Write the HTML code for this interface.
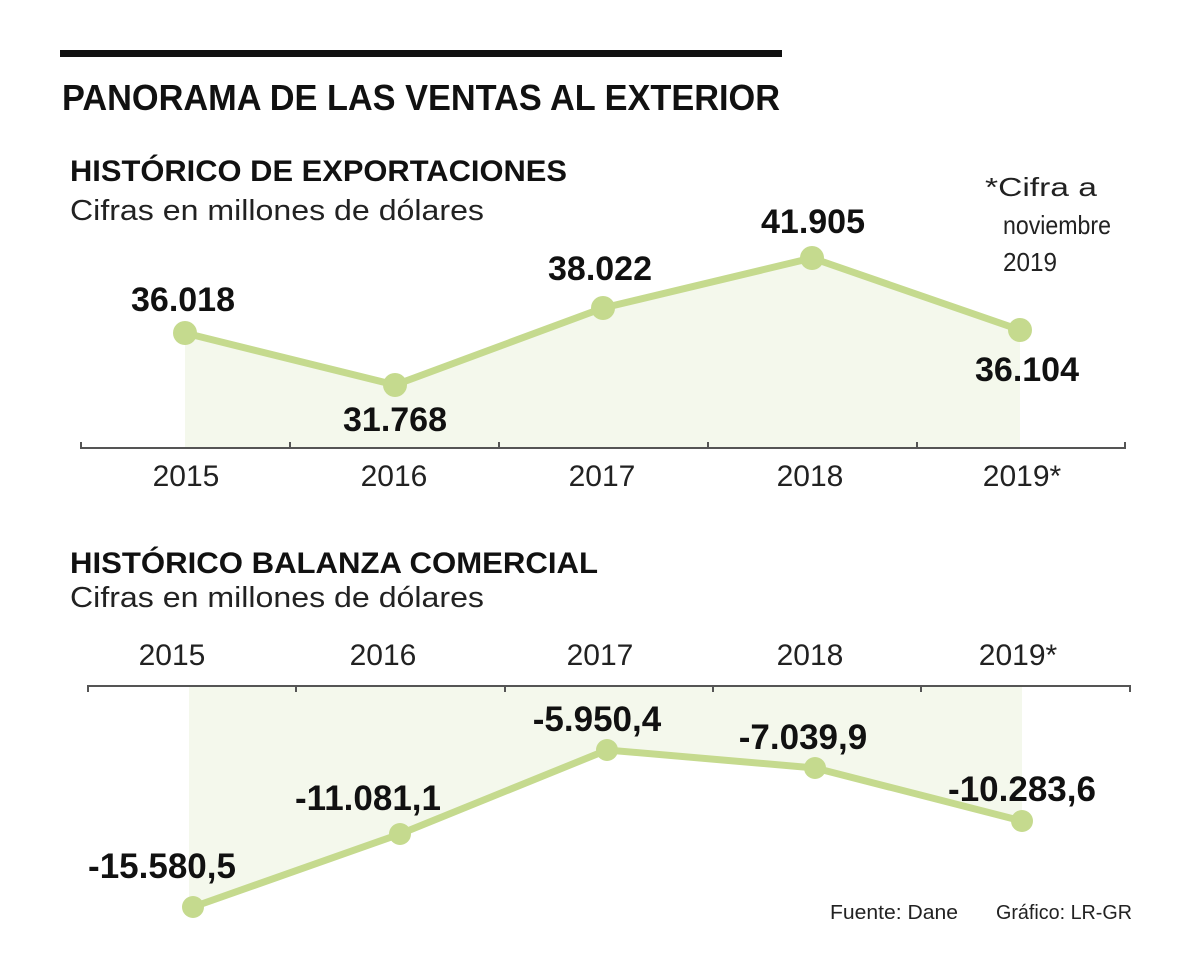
<!DOCTYPE html>
<html><head><meta charset="utf-8"><style>
html,body{margin:0;padding:0;background:#fff}
svg{display:block}
text{font-family:"Liberation Sans",sans-serif}
.b{font-weight:bold;fill:#111}
.r{fill:#222}
</style></head><body>
<svg width="1200" height="973" viewBox="0 0 1200 973">
<rect x="60" y="50" width="722" height="7" fill="#111"/>
<text x="62" y="110" class="b" font-size="36" textLength="718" lengthAdjust="spacingAndGlyphs">PANORAMA DE LAS VENTAS AL EXTERIOR</text>
<text x="70" y="181" class="b" font-size="30" textLength="497" lengthAdjust="spacingAndGlyphs">HISTÓRICO DE EXPORTACIONES</text>
<text x="70" y="220" class="r" font-size="29" textLength="414" lengthAdjust="spacingAndGlyphs">Cifras en millones de dólares</text>
<text x="985" y="196" class="r" font-size="26" textLength="112" lengthAdjust="spacingAndGlyphs">*Cifra a</text>
<text x="1003" y="234" class="r" font-size="26" textLength="108" lengthAdjust="spacingAndGlyphs">noviembre</text>
<text x="1003" y="271" class="r" font-size="26" textLength="54" lengthAdjust="spacingAndGlyphs">2019</text>
<polygon points="185,333 395,385 603,308 812,258 1020,330 1020,448 185,448" fill="#f4f8ec"/>
<line x1="80" y1="448" x2="1126" y2="448" stroke="#555" stroke-width="2"/>
<g stroke="#555" stroke-width="2">
<line x1="81" y1="442" x2="81" y2="448"/><line x1="290" y1="442" x2="290" y2="448"/><line x1="499" y1="442" x2="499" y2="448"/><line x1="708" y1="442" x2="708" y2="448"/><line x1="917" y1="442" x2="917" y2="448"/><line x1="1125" y1="442" x2="1125" y2="448"/>
</g>
<polyline points="185,333 395,385 603,308 812,258 1020,330" fill="none" stroke="#c5da8e" stroke-width="7" stroke-linejoin="round"/>
<g fill="#c5da8e"><circle cx="185" cy="333" r="12"/><circle cx="395" cy="385" r="12"/><circle cx="603" cy="308" r="12"/><circle cx="812" cy="258" r="12"/><circle cx="1020" cy="330" r="12"/></g>
<g class="b" font-size="34" text-anchor="middle">
<text x="183" y="311">36.018</text><text x="395" y="431">31.768</text><text x="600" y="280">38.022</text><text x="813" y="233">41.905</text><text x="1027" y="381">36.104</text>
</g>
<g class="r" font-size="30" text-anchor="middle">
<text x="186" y="486">2015</text><text x="394" y="486">2016</text><text x="602" y="486">2017</text><text x="810" y="486">2018</text><text x="1022" y="486">2019*</text>
</g>
<text x="70" y="573" class="b" font-size="30" textLength="528" lengthAdjust="spacingAndGlyphs">HISTÓRICO BALANZA COMERCIAL</text>
<text x="70" y="607" class="r" font-size="29" textLength="414" lengthAdjust="spacingAndGlyphs">Cifras en millones de dólares</text>
<g class="r" font-size="30" text-anchor="middle">
<text x="172" y="665">2015</text><text x="383" y="665">2016</text><text x="600" y="665">2017</text><text x="810" y="665">2018</text><text x="1018" y="665">2019*</text>
</g>
<polygon points="189,686 1022,686 1022,821 815,768 607,750 400,834 193,907 189,907" fill="#f4f8ec"/>
<line x1="87" y1="686" x2="1131" y2="686" stroke="#555" stroke-width="2"/>
<g stroke="#555" stroke-width="2">
<line x1="88" y1="686" x2="88" y2="692"/><line x1="296" y1="686" x2="296" y2="692"/><line x1="505" y1="686" x2="505" y2="692"/><line x1="713" y1="686" x2="713" y2="692"/><line x1="921" y1="686" x2="921" y2="692"/><line x1="1130" y1="686" x2="1130" y2="692"/>
</g>
<polyline points="193,907 400,834 607,750 815,768 1022,821" fill="none" stroke="#c5da8e" stroke-width="7" stroke-linejoin="round"/>
<g fill="#c5da8e"><circle cx="193" cy="907" r="11"/><circle cx="400" cy="834" r="11"/><circle cx="607" cy="750" r="11"/><circle cx="815" cy="768" r="11"/><circle cx="1022" cy="821" r="11"/></g>
<g class="b" font-size="35" text-anchor="middle">
<text x="162" y="878">-15.580,5</text><text x="368" y="810">-11.081,1</text><text x="597" y="731">-5.950,4</text><text x="803" y="749">-7.039,9</text><text x="1022" y="801">-10.283,6</text>
</g>
<text x="830" y="919" class="r" font-size="20" textLength="128" lengthAdjust="spacingAndGlyphs">Fuente: Dane</text>
<text x="996" y="919" class="r" font-size="20" textLength="136" lengthAdjust="spacingAndGlyphs">Gráfico: LR-GR</text>
</svg>
</body></html>
